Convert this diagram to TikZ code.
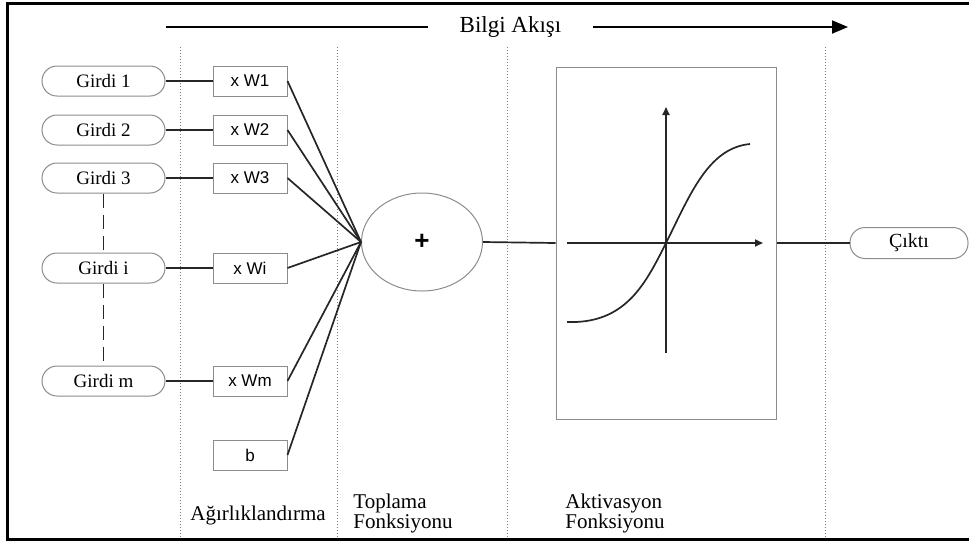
\documentclass[tikz,border=0pt]{standalone}
\usepackage{fontspec}
\setmainfont{Liberation Serif}
\setsansfont{Liberation Sans}
\usepackage{tikz}
\usetikzlibrary{arrows.meta,positioning,shapes.geometric}
\definecolor{nnLine}{HTML}{262626}
\definecolor{nnEdge}{HTML}{8C8C8C}
\definecolor{nnDot}{HTML}{7A7A7A}
\tikzset{
  nnnode/.style={draw=nnEdge, line width=0.5pt, inner sep=0pt, align=center},
  girdi/.style={nnnode, rectangle, rounded corners=7.5pt,
    minimum width=61.5pt, minimum height=15pt, font=\fontsize{9.5}{11}\selectfont},
  agirlik/.style={nnnode, rectangle, minimum width=37pt, minimum height=15pt,
    font=\sffamily\fontsize{8.5}{10}\selectfont},
  toplam/.style={nnnode, ellipse, minimum width=60.5pt, minimum height=49pt,
    font=\sffamily\bfseries\fontsize{13}{14}\selectfont},
  aktkutu/.style={nnnode, rectangle, minimum width=110pt, minimum height=176pt},
  baglanti/.style={draw=nnLine, line width=0.85pt},
  kesikli/.style={draw=nnLine, line width=0.9pt, dash pattern=on 7pt off 3.5pt},
  bolge/.style={draw=nnDot, line width=0.5pt, densely dotted},
  eksen/.style={draw=nnLine, line width=0.85pt, -{Triangle[length=4pt,width=3.5pt]}},
  akis/.style={draw=black, line width=0.9pt, -{Triangle[length=8pt,width=6.5pt]}},
  etiket/.style={font=\fontsize{10.5}{10}\selectfont, align=left, inner sep=0pt}
}
\begin{document}
\begin{tikzpicture}[x=0.5pt, y=-0.5pt]
  \useasboundingbox (0,0) rectangle (969,542);
  % outer frame (right side runs off the page)
  \draw[line width=1.5pt] (975,3) -| (7,539) -- (975,539);
  % layer separators
  \foreach \xs in {180,337,507,825}
    \draw[bolge] (\xs,47) -- (\xs,538);
  % information flow
  \node[font=\fontsize{11.5}{12}\selectfont, minimum width=82.5pt, inner sep=0pt] (bilgi) at (510.5,27) {Bilgi Akışı};
  \coordinate (akisbas) at (166,27);
  \coordinate (akisson) at (848,27);
  \draw[baglanti, draw=black, line width=0.9pt] (akisbas) -- (bilgi.west);
  \draw[akis] (bilgi.east) -- (akisson);
  % inputs and weights
  \foreach \n/\yy/\w in {1/81/W1, 2/130/W2, 3/178/W3, i/268/Wi, m/381/Wm} {
    \node[girdi] (g\n) at (103.5,\yy) {Girdi \n};
    \node[agirlik] (w\n) at (250,\yy) {x \w};
    \draw[baglanti] (g\n.east) -- (w\n.west);
  }
  \node[agirlik] (wb) at (250,455) {b};
  \draw[kesikli] (g3.south) -- (gi.north);
  \draw[kesikli] (gi.south) -- (gm.north);
  % summation
  \node[toplam] (top) at (422,242) {+};
  \foreach \n in {1,2,3,i,m,b}
    \draw[baglanti] (w\n.east) -- (top.west);
  % activation
  \node[aktkutu] (akt) at (666,243) {};
  \draw[eksen] (567,243) -- (763,243);
  \draw[eksen] (666,353) -- (666,107);
  \draw[baglanti] (567,322) .. controls (625,324) and (645,285) .. (666,243)
    .. controls (690,195) and (708,148) .. (750,144);
  \draw[baglanti] (top.east) -- (akt.west);
  % output
  \node[girdi, minimum width=59pt, minimum height=15.5pt, font=\fontsize{10}{11}\selectfont] (cikti) at (909,243) {Çıktı};
  \draw[baglanti] (akt.east) -- (cikti.west);
  % layer labels
  \node[etiket] (lagr) at (258,515) {Ağırlıklandırma};
  \node[etiket, anchor=north west] (ltop) at (353,494) {Toplama\\Fonksiyonu};
  \node[etiket, anchor=north west] (lakt) at (565,494) {Aktivasyon\\Fonksiyonu};
\end{tikzpicture}
\end{document}
